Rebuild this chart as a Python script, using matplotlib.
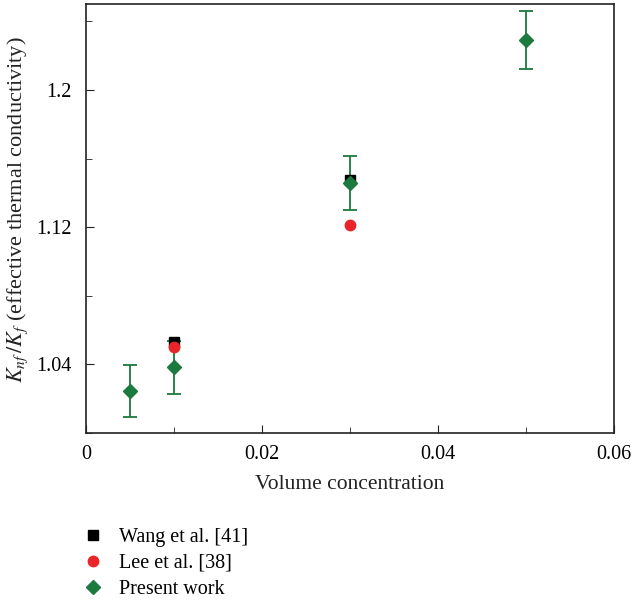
import numpy as np
import matplotlib.pyplot as plt

plt.rcParams['font.family'] = ['Liberation Serif', 'DejaVu Serif']
plt.rcParams['mathtext.fontset'] = 'stix'

# data
wang_x = [0.01, 0.03]
wang_y = [1.0528, 1.1472]

lee_x = [0.01, 0.03]
lee_y = [1.0500, 1.1212]

present_x = [0.005, 0.01, 0.03, 0.05]
present_y = [1.0243, 1.0383, 1.1455, 1.2290]
present_err = [0.0150, 0.0155, 0.0157, 0.0170]

xticks = [0, 0.02, 0.04, 0.06]
xtick_labels = ['0', '0.02', '0.04', '0.06']
yticks = [1.04, 1.12, 1.2]
ytick_labels = ['1.04', '1.12', '1.2']

fig = plt.figure(figsize=(6.36, 6.02), dpi=100)
ax = fig.add_axes([0.135, 0.281, 0.83, 0.712])

green = '#1b7a3e'
ax.errorbar(present_x, present_y, yerr=present_err, fmt='none', ecolor=green,
            elinewidth=1.3, capsize=5, capthick=1.3, zorder=2)
h1, = ax.plot(wang_x, wang_y, 's', color='black', markersize=6.5, linestyle='none', zorder=3)
h2, = ax.plot(lee_x, lee_y, 'o', color='#e8262a', markersize=7.5, linestyle='none', zorder=4)
h3, = ax.plot(present_x, present_y, 'D', color=green, markersize=7.5, linestyle='none', zorder=5)

ax.set_xlim(0, 0.06)
ax.set_ylim(1.0, 1.25)
ax.set_xticks(xticks)
ax.set_xticklabels(xtick_labels)
ax.set_yticks(yticks)
ax.set_yticklabels(ytick_labels)
ax.set_xticks([0.01, 0.03, 0.05], minor=True)
ax.set_yticks([1.0, 1.08, 1.16, 1.24], minor=True)
ax.tick_params(which='both', direction='in', top=False, right=False, labelsize=14.5, color='#222222')
ax.tick_params(which='major', length=6)
ax.tick_params(axis='y', which='major', pad=10)
ax.tick_params(axis='x', which='major', pad=9)
ax.tick_params(which='minor', length=4)
for s in ax.spines.values():
    s.set_linewidth(1.2)
    s.set_color('#222222')

ax.set_xlabel('Volume concentration', fontsize=15.5, labelpad=8, color='#222222')
ax.set_ylabel(r'$K_{nf}\,/K_f$ (effective thermal conductivity)', fontsize=16,
              color='#222222')
ax.yaxis.set_label_coords(-0.105, 0.52)

fig.legend([h1, h2, h3], ['Wang et al. [41]', 'Lee et al. [38]', 'Present work'],
           loc='upper left', bbox_to_anchor=(0.118, 0.137), frameon=False,
           fontsize=14.5, handlelength=1.0, handletextpad=0.8, labelspacing=0.35,
           borderaxespad=0)

fig.savefig('out.png', dpi=100)
